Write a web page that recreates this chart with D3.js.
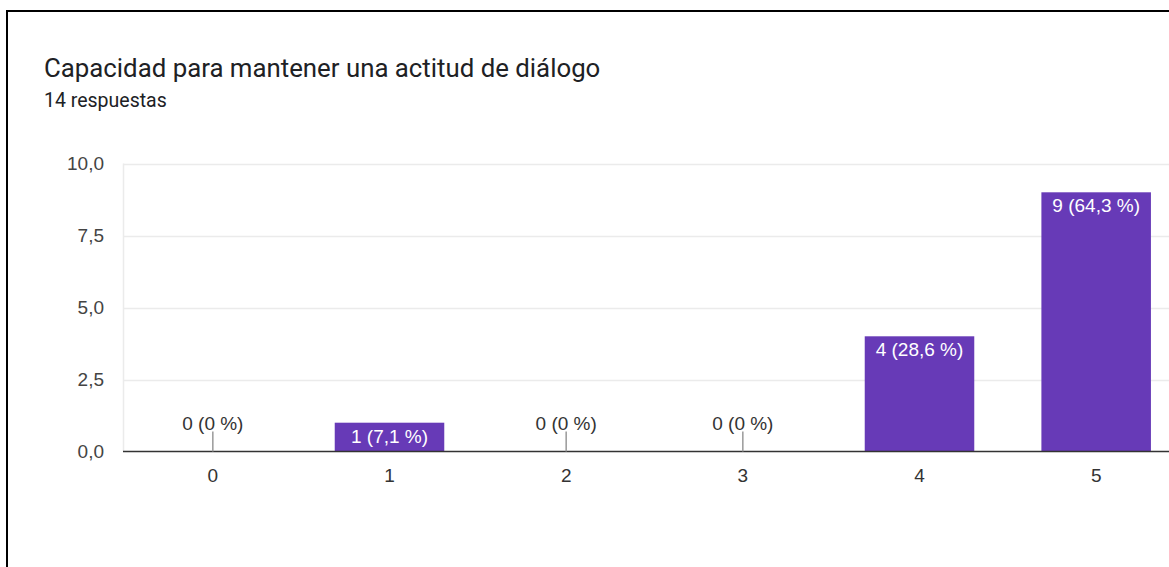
<!DOCTYPE html>
<html>
<head>
<meta charset="utf-8">
<script src="https://cdn.jsdelivr.net/npm/d3@7"></script>
<style>
  html, body { margin: 0; padding: 0; background: #fff; }
  svg { display: block; font-family: "Liberation Sans", Arial, sans-serif; }
  .head { font-family: Roboto, Arial, sans-serif; }
</style>
</head>
<body>
<svg id="chart" width="1169" height="567"></svg>
<script>
// Survey results: rating scale 0–5
const categories = ["0", "1", "2", "3", "4", "5"];
const counts = [0, 1, 0, 0, 4, 9];
const percents = ["0 %", "7,1 %", "0 %", "0 %", "28,6 %", "64,3 %"];
const yTicks = [0, 2.5, 5, 7.5, 10];
const title = "Capacidad para mantener una actitud de diálogo";
const subtitle = "14 respuestas";

const svg = d3.select("#chart");
const W = 1169, H = 567;

// card frame
svg.append("rect").attr("x", 0).attr("y", 0).attr("width", W).attr("height", H).attr("fill", "#fff");
svg.append("line").attr("x1", 6).attr("x2", W).attr("y1", 11).attr("y2", 11)
  .attr("stroke", "#000").attr("stroke-width", 2);
svg.append("line").attr("x1", 7).attr("x2", 7).attr("y1", 10).attr("y2", H)
  .attr("stroke", "#000").attr("stroke-width", 2);

svg.append("text").attr("class", "head").attr("x", 44).attr("y", 77)
  .attr("font-size", 25.8).attr("fill", "#202124").text(title);
svg.append("text").attr("class", "head").attr("x", 44).attr("y", 107)
  .attr("font-size", 19.5).attr("fill", "#202124").text(subtitle);

const plotLeft = 123, plotRight = 1183, plotTop = 163.5, plotBottom = 451.5;

const x = d3.scaleBand().domain(categories).range([plotLeft + 1.5, plotRight + 1.5])
  .paddingInner(0.38).paddingOuter(0.19);
const y = d3.scaleLinear().domain([0, 10]).range([plotBottom, plotTop]);

// horizontal gridlines
svg.append("g").selectAll("line").data(yTicks.filter(d => d > 0)).join("line")
  .attr("x1", plotLeft).attr("x2", W)
  .attr("y1", d => Math.round(y(d)) + 0.5).attr("y2", d => Math.round(y(d)) + 0.5)
  .attr("stroke", "#ebebeb").attr("stroke-width", 1.5);
svg.append("line").attr("x1", plotLeft + 0.5).attr("x2", plotLeft + 0.5)
  .attr("y1", plotTop).attr("y2", plotBottom)
  .attr("stroke", "#ebebeb").attr("stroke-width", 1.5);

// y axis labels
const fmt = d => d3.format(".1f")(d).replace(".", ",");
svg.append("g").selectAll("text").data(yTicks).join("text")
  .attr("x", 104).attr("y", d => y(d) + 6.5)
  .attr("text-anchor", "end").attr("font-size", 19).attr("fill", "#444")
  .text(fmt);

// bars
const data = categories.map((c, i) => ({ c, v: counts[i], p: percents[i] }));
svg.append("g").selectAll("rect").data(data.filter(d => d.v > 0)).join("rect")
  .attr("x", d => x(d.c)).attr("width", x.bandwidth())
  .attr("y", d => y(d.v)).attr("height", d => y(0) - y(d.v))
  .attr("fill", "#673ab7");

// baseline
svg.append("line").attr("x1", plotLeft).attr("x2", W)
  .attr("y1", plotBottom).attr("y2", plotBottom)
  .attr("stroke", "#333").attr("stroke-width", 1.5);

// x axis labels
svg.append("g").selectAll("text").data(categories).join("text")
  .attr("x", d => x(d) + x.bandwidth() / 2).attr("y", 482)
  .attr("text-anchor", "middle").attr("font-size", 19).attr("fill", "#333")
  .text(d => d);

// value labels
const lbl = svg.append("g");
data.forEach(d => {
  const cx = x(d.c) + x.bandwidth() / 2;
  const text = `${d.v} (${d.p})`;
  if (d.v > 0) {
    lbl.append("text").attr("x", cx).attr("y", y(d.v) + 20)
      .attr("text-anchor", "middle").attr("font-size", 19).attr("fill", "#fff").text(text);
  } else {
    lbl.append("line").attr("x1", cx).attr("x2", cx).attr("y1", plotBottom - 20).attr("y2", plotBottom)
      .attr("stroke", "#999").attr("stroke-width", 1.5);
    lbl.append("text").attr("x", cx).attr("y", plotBottom - 22)
      .attr("text-anchor", "middle").attr("font-size", 19).attr("fill", "#333").text(text);
  }
});
</script>
</body>
</html>
